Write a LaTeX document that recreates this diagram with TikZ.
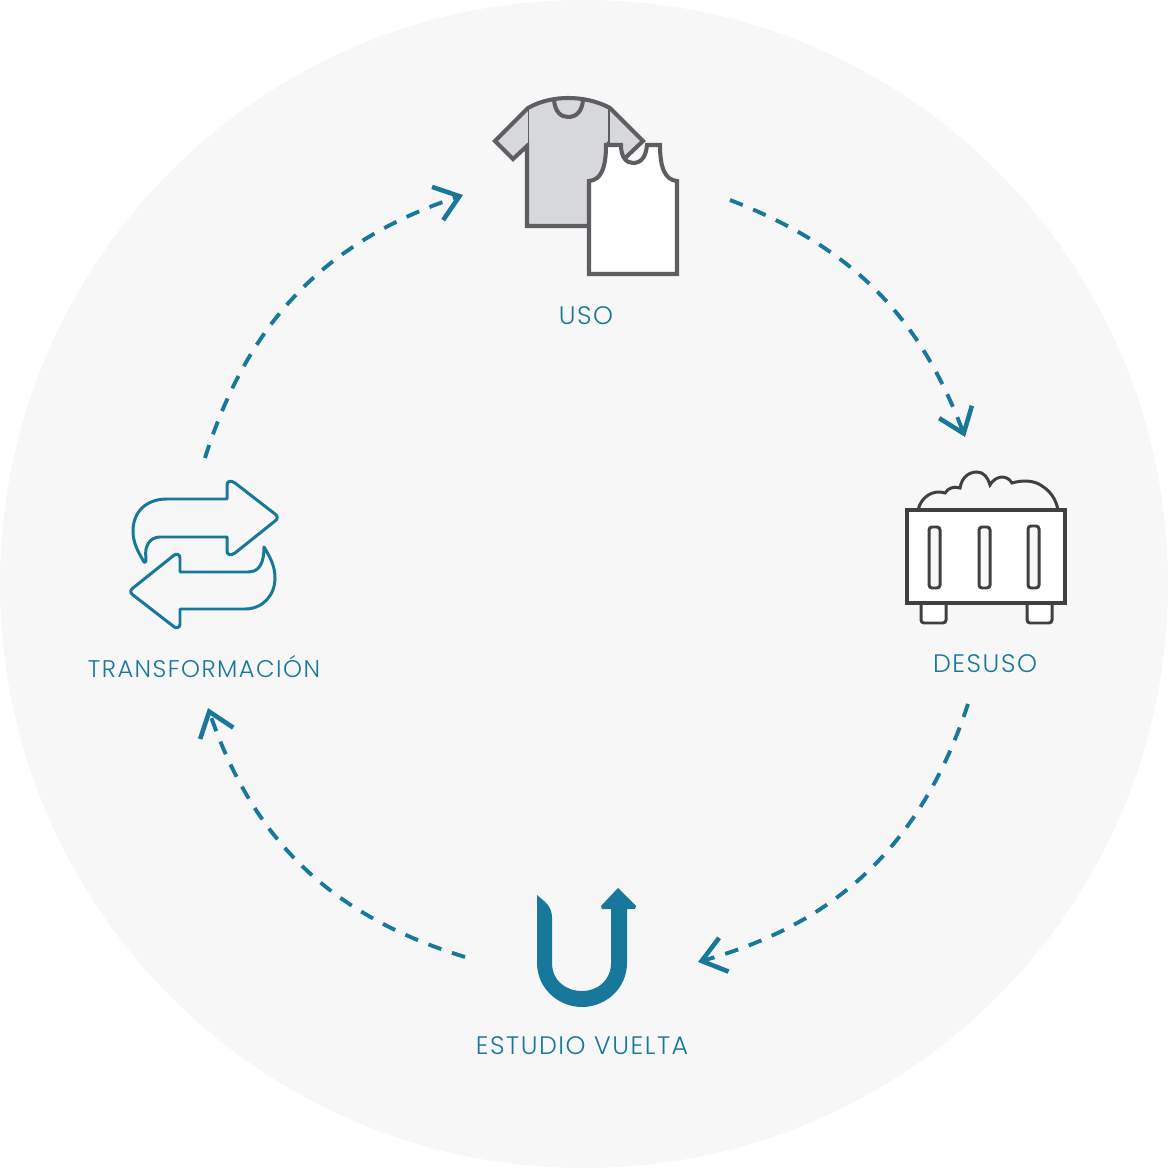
\documentclass[tikz,border=0pt]{standalone}
\usepackage{fontspec}
\setmainfont{Poppins}[UprightFont=* Light,LetterSpace=6]
\usepackage{xcolor}
\usetikzlibrary{arrows.meta}
\definecolor{Teal}{HTML}{17789B}
\definecolor{Disc}{HTML}{F7F7F7}
\definecolor{Shirt}{HTML}{D7D8DC}
\definecolor{ShirtLine}{HTML}{5D5D62}
\definecolor{BinLine}{HTML}{404040}

\begin{document}
\begin{tikzpicture}[
  x=.01cm, y=-.01cm,
  stagelabel/.style={font=\fontsize{7.2}{9}\selectfont, text=Teal, inner sep=0pt},
  longlabel/.style={font=\fontsize{6.85}{9}\selectfont, text=Teal, inner sep=0pt},
  cycle/.style={-{Straight Barb[length=2.3mm,width=3.5mm,line width=1.3pt]}, line width=1.1pt, draw=Teal,
    dash pattern=on 3.9pt off 3.2pt},
  shirtline/.style={draw=ShirtLine, line width=1.15pt, miter limit=4},
  binline/.style={draw=BinLine, line width=.85pt, rounded corners=.03cm},
  swapline/.style={draw=Teal, line width=.85pt, line join=round}
]
\useasboundingbox (0,0) rectangle (1168,1168);
\fill[Disc] (584,584) circle[radius=584];

% Tee shirt, then the tank top over it.
\draw[shirtline, fill=Shirt] (527,226) -- (527,146) -- (513,159) -- (495,141) -- (528,108)
  .. controls (540,101) and (555,98) .. (568,98) .. controls (582,98) and (597,101) .. (610,108)
  -- (643,141) -- (623,160) -- (609,146) -- (609,226) -- cycle;
\draw[shirtline] (554,100) .. controls (555,112) and (561,117) .. (568,117)
  .. controls (576,117) and (582,112) .. (583,100);
\draw[draw=ShirtLine, line width=.5pt] (528.5,108) -- (528.5,146) (609,108) -- (609,146);
\draw[shirtline, fill=white] (589,274) -- (589,181) .. controls (601,180) and (606,168) .. (606,145)
  -- (621,145) .. controls (621,157) and (626,163) .. (633,163) .. controls (641,163) and (646,157) .. (647,145)
  -- (660,145) .. controls (660,168) and (665,180) .. (677,181) -- (677,274) -- cycle;
\node[stagelabel] (uso) at (586,316) {USO};

% Waste container.
\draw[binline, fill=white] (921,603) -- (921,623) -- (946,623) -- (946,603);
\draw[binline, fill=white] (1027,603) -- (1027,623) -- (1052,623) -- (1052,603);
\draw[draw=BinLine, line width=.85pt] (918,510) .. controls (921,497) and (933,489) .. (945,493)
  .. controls (948,488) and (954,486) .. (960,488) .. controls (962,476) and (970,472) .. (977,472)
  .. controls (984,472) and (988,478) .. (990,485) .. controls (994,477) and (1006,473) .. (1012,483)
  .. controls (1022,480) and (1034,480) .. (1042,486) .. controls (1050,491) and (1056,499) .. (1058,510);
\draw[draw=BinLine, line width=.9pt, fill=white] (907,510) rectangle (1065,603);
\foreach \slotx/\slottop in {929/527, 979/527, 1028/526}
  \draw[binline, fill=Disc] (\slotx,\slottop) rectangle (\slotx+11,588);
\node[stagelabel] (desuso) at (985,664) {DESUSO};

% U-turn arrow.
\fill[Teal] (537,895) .. controls (545,902) and (552,906) .. (552,918) -- (552,963)
  .. controls (552,980) and (565,991) .. (582,991) .. controls (598,991) and (611,980) .. (611,963)
  -- (611,909) -- (602,909) -- (601,906) -- (618,888) -- (636,906) -- (635,909) -- (627,909) -- (627,963)
  .. controls (627,988) and (606,1007) .. (582,1007) .. controls (558,1007) and (537,988) .. (537,963) -- cycle;
\node[stagelabel] (vuelta) at (582,1046) {ESTUDIO VUELTA};

% Swap arrows.
\draw[swapline] (144,562) .. controls (137,550) and (133,542) .. (133,531)
  .. controls (133,512) and (146,499) .. (167,499) -- (227,499) -- (227,485)
  .. controls (227,481) and (231,480) .. (235,483) -- (275,514) .. controls (278,516) and (278,519) .. (275,521)
  -- (235,553) .. controls (231,556) and (227,555) .. (227,551) -- (227,537) -- (160,537)
  .. controls (150,537) and (144,546) .. (146,558) .. controls (146,563) and (145,563) .. (144,562) -- cycle;
\draw[swapline] (264,547) .. controls (264,562) and (260,572) .. (248,572) -- (180,572) -- (180,558)
  .. controls (180,554) and (176,553) .. (173,556) -- (133,588) .. controls (130,590) and (130,593) .. (133,595)
  -- (173,626) .. controls (176,629) and (180,628) .. (180,624) -- (180,609) -- (245,609)
  .. controls (263,609) and (275,595) .. (275,578) .. controls (275,566) and (270,557) .. (264,547) -- cycle;
\node[longlabel] (transformacion) at (204,667) {TRANSFORMACIÓN};

% Cycle connectors.
\coordinate (usoOut) at (730,200);
\coordinate (desusoIn) at (965,437);
\coordinate (desusoOut) at (968,704);
\coordinate (vueltaIn) at (698,962);
\coordinate (vueltaOut) at (465,957);
\coordinate (transfIn) at (208,708);
\coordinate (transfOut) at (205,458);
\coordinate (usoIn) at (463,195);
\draw[cycle] (usoOut) to[bend left=24] (desusoIn);
\draw[cycle] (desusoOut) to[bend left=28] (vueltaIn);
\draw[cycle] (vueltaOut) to[bend left=27] (transfIn);
\draw[cycle] (transfOut) to[bend left=27] (usoIn);
\end{tikzpicture}
\end{document}
